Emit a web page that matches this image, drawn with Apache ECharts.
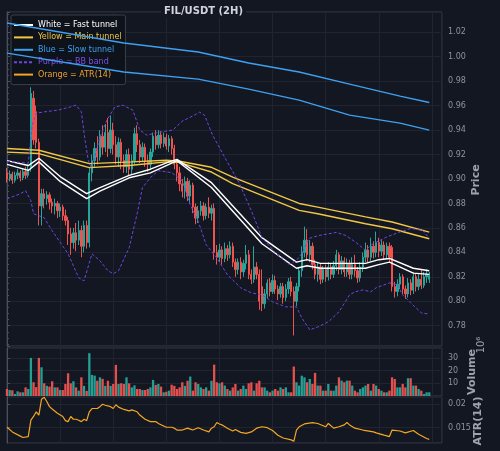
<!DOCTYPE html>
<html>
<head>
<meta charset="utf-8">
<script src="https://cdn.jsdelivr.net/npm/echarts@6/dist/echarts.min.js"></script>
<style>
  html, body { margin: 0; padding: 0; background: #131722; }
  #chart { width: 500px; height: 451px; }
</style>
</head>
<body>
<div id="chart"></div>
<script>
// 2H candles: [open, close, low, high]
const candles = [
  [.905,.900,.897,.909],[.900,.904,.898,.907],[.904,.899,.896,.906],[.899,.903,.897,.906],[.903,.905,.900,.908],
  [.905,.901,.898,.907],[.901,.906,.899,.909],[.906,.903,.900,.910],[.903,.908,.901,.912],[.910,.970,.906,.975],
  [.966,.932,.928,.972],[.955,.930,.925,.960],[.930,.878,.862,.933],[.878,.888,.862,.892],[.888,.884,.876,.892],
  [.884,.887,.879,.890],[.887,.881,.875,.889],[.881,.878,.872,.884],[.878,.880,.871,.884],[.880,.874,.868,.882],
  [.874,.877,.869,.880],[.877,.870,.866,.879],[.870,.866,.862,.875],[.866,.855,.846,.869],[.855,.848,.838,.860],
  [.848,.856,.843,.860],[.856,.850,.841,.864],[.850,.858,.846,.866],[.858,.845,.836,.862],[.845,.862,.840,.866],
  [.862,.848,.843,.866],[.848,.905,.844,.909],[.905,.915,.898,.920],[.915,.925,.910,.930],[.925,.918,.912,.935],
  [.918,.935,.915,.940],[.935,.926,.920,.944],[.926,.938,.922,.945],[.938,.925,.918,.950],[.925,.940,.921,.952],
  [.940,.928,.920,.946],[.928,.918,.912,.935],[.918,.930,.910,.934],[.930,.915,.908,.933],[.915,.910,.905,.920],
  [.910,.920,.905,.924],[.920,.908,.903,.925],[.908,.915,.904,.920],[.915,.937,.912,.942],[.937,.928,.922,.944],
  [.928,.918,.913,.932],[.918,.926,.914,.930],[.926,.915,.910,.929],[.915,.912,.906,.920],[.912,.922,.908,.925],
  [.922,.935,.918,.938],[.935,.928,.924,.940],[.928,.936,.925,.940],[.936,.929,.925,.939],[.929,.934,.926,.938],
  [.934,.927,.924,.937],[.927,.933,.922,.936],[.933,.925,.920,.935],[.925,.912,.908,.928],[.912,.905,.898,.916],
  [.905,.896,.890,.910],[.896,.890,.885,.900],[.890,.898,.884,.902],[.898,.886,.882,.901],[.886,.895,.880,.899],
  [.895,.877,.872,.897],[.877,.868,.863,.880],[.868,.874,.864,.878],[.874,.878,.870,.882],[.878,.870,.866,.881],
  [.870,.877,.867,.880],[.877,.872,.868,.885],[.872,.876,.866,.879],[.876,.840,.834,.880],[.840,.836,.830,.846],
  [.836,.842,.832,.847],[.842,.835,.830,.845],[.835,.843,.832,.848],[.843,.838,.833,.846],[.838,.845,.835,.849],
  [.845,.832,.828,.848],[.832,.826,.820,.835],[.826,.832,.822,.835],[.832,.824,.818,.836],[.824,.831,.820,.834],
  [.831,.838,.826,.846],[.838,.822,.818,.842],[.822,.818,.814,.826],[.818,.828,.815,.845],[.828,.822,.818,.832],
  [.822,.800,.793,.826],[.812,.798,.792,.826],[.798,.806,.794,.810],[.806,.815,.802,.818],[.815,.808,.804,.819],
  [.808,.817,.806,.822],[.817,.810,.806,.821],[.810,.806,.801,.813],[.806,.812,.803,.815],[.812,.803,.798,.815],
  [.803,.810,.800,.814],[.810,.816,.806,.819],[.816,.808,.804,.820],[.808,.800,.772,.812],[.800,.812,.796,.815],
  [.812,.825,.808,.828],[.825,.840,.820,.845],[.840,.850,.836,.861],[.850,.838,.833,.859],[.838,.845,.832,.850],
  [.845,.830,.826,.848],[.830,.822,.818,.834],[.822,.828,.816,.832],[.828,.818,.814,.831],[.818,.826,.815,.829],
  [.826,.820,.816,.830],[.820,.828,.817,.832],[.828,.822,.818,.831],[.822,.829,.819,.833],[.829,.838,.825,.842],
  [.838,.826,.822,.840],[.826,.833,.822,.837],[.833,.824,.820,.836],[.824,.831,.820,.835],[.831,.822,.818,.834],
  [.822,.830,.818,.836],[.830,.825,.820,.838],[.825,.819,.815,.828],[.819,.828,.816,.832],[.828,.836,.824,.840],
  [.836,.842,.832,.848],[.842,.836,.832,.846],[.836,.845,.833,.852],[.845,.840,.835,.849],[.840,.848,.836,.857],
  [.848,.841,.836,.852],[.841,.846,.837,.850],[.846,.838,.834,.849],[.838,.845,.835,.848],[.845,.836,.832,.848],
  [.844,.812,.808,.846],[.812,.808,.803,.816],[.808,.814,.804,.818],[.814,.820,.810,.823],[.820,.810,.806,.822],
  [.810,.806,.802,.813],[.806,.815,.803,.819],[.815,.809,.805,.818],[.809,.820,.806,.824],[.820,.812,.808,.823],
  [.812,.818,.809,.822],[.818,.813,.810,.826],[.813,.820,.811,.824],[.820,.822,.815,.826],[.818,.821,.815,.824]
];

// volume in millions
const volumes = [
  5.5,4.7,4.5,1.6,3.7,2.9,2.9,6.8,5.5,30,10.8,7,30,22.6,10,8,7.4,11.6,6.8,6.8,
  4.7,4.7,9.5,17.9,10,11.6,6.8,4.2,14.7,8,4,33.7,16.6,16,12,14.7,13.5,8,12,8,
  9.5,24.5,9.5,10,9.5,14.7,10,6.8,8.4,5.5,5.5,4.7,4.7,5.5,6.8,12.6,8.7,9.5,7.4,2.9,
  3.4,4.2,8.9,8,5.5,6.8,10.8,8,12,15.3,4.2,10.8,9.5,6.8,5.5,6.8,4.2,12,24.7,
  10.8,10,10.8,8.2,5.5,4.2,6.8,9.5,4.2,5.5,8.2,5.5,10,10.8,4.2,10,12,6.8,
  6.8,4.2,2.9,4.2,5.5,4.2,6.8,5.5,6.8,2.9,2.9,23.2,
  10.8,8.2,16,14.7,10.8,13.4,9.5,18.2,8.2,8.2,4.2,4.2,9.5,4.2,4.2,8.2,14.7,12.1,10.8,12.1,
  12.1,8.2,4.2,2.9,5.5,6.8,8.2,9.5,4.2,9.5,8.2,5.5,4.2,2.9,2.9,4.2,14.7,
  13.4,6.8,6.8,9.5,6.8,14,14,8.2,8.2,5.5,4.2,1.6,2.9,2.9
];

// [bar index, value] readings
const fastUpper = [[0,.915],[8,.911],[12,.917],[20,.902],[30,.888],[35,.893],[46,.903],[54,.908],[61,.914],[64,.916],[77,.897],[96,.852],[109,.832],[113,.834],[118,.831],[135,.831],[140,.834],[144,.835],[153,.827],[159,.825]];
const fastLower = [[0,.912],[8,.907],[12,.914],[20,.898],[30,.884],[35,.890],[46,.901],[54,.905],[61,.912],[64,.915],[77,.893],[96,.847],[109,.827],[113,.829],[118,.827],[135,.827],[140,.830],[144,.832],[153,.823],[159,.822]];
const mainUpper = [[0,.925],[12,.9235],[31,.9126],[47,.914],[60,.9153],[65,.9145],[77,.9096],[85,.9016],[110,.880],[117,.877],[135,.869],[145,.8648],[159,.8566]];
const mainLower = [[0,.922],[12,.9208],[31,.9093],[47,.9112],[60,.914],[65,.9134],[77,.9057],[85,.8962],[110,.8743],[117,.8716],[135,.8634],[145,.8593],[159,.8511]];
const slowUpper = [[0,1.0276],[44,1.0112],[72,1.0039],[91,.9949],[110,.9875],[129,.9776],[148,.9678],[159,.9626]];
const slowLower = [[0,1.003],[44,.9875],[72,.9817],[91,.9735],[110,.9645],[129,.9522],[148,.9457],[159,.940]];
const bbUpper = [[0,.9145],[8,.9129],[9.5,.944],[11,.9538],[14,.9549],[19,.9563],[24,.959],[26,.9604],[28,.9549],[29.4,.9317],[30.6,.9153],[31.6,.9096],[32.4,.9129],[35,.9342],[37.6,.9481],[40.6,.9588],[43.6,.9604],[47.4,.9563],[50,.94],[52.6,.9359],[57.5,.9383],[62.4,.94],[66,.9473],[70.5,.9522],[72.5,.9547],[74.4,.9522],[77.4,.9359],[82.6,.9153],[87.5,.8965],[92.4,.872],[96,.8522],[101.3,.8391],[106.2,.8301],[109,.8334],[111,.8391],[113.7,.8514],[117.5,.8538],[124,.8563],[127.6,.8538],[131.4,.8481],[135,.8416],[137.4,.8465],[142.6,.8522],[147.5,.8563],[152,.8596],[156.5,.8579],[159,.8515]];
const bbLower = [[0,.8838],[5,.8879],[7,.8904],[9,.8822],[10,.8716],[14,.8683],[17,.8577],[23,.8388],[27,.8192],[29,.8167],[32,.8388],[35,.8331],[38,.825],[40,.8225],[42,.825],[46,.8438],[49,.8716],[51,.8929],[54,.9011],[57,.9068],[62,.9052],[66,.8986],[69,.8789],[72,.8654],[75,.8462],[79,.8355],[83,.8216],[88,.811],[92,.8069],[96,.8052],[100,.7995],[105,.7954],[109,.7954],[111,.7864],[114,.7766],[117,.7789],[121,.7832],[125,.7913],[129,.8052],[131,.8077],[134,.8093],[137,.8077],[139,.811],[144,.815],[147,.8134],[149,.8052],[152,.7987],[156,.7905],[159,.7895]];
const atr = [[0,.0151],[2,.0141],[5,.0132],[6,.0129],[8,.0131],[9,.0166],[10,.0174],[11,.0184],[12,.0177],[13,.0211],[14,.0215],[15,.0206],[16,.0195],[17,.0190],[19,.0181],[21,.0174],[22,.0165],[23,.0163],[24,.0174],[25,.0168],[26,.0168],[27,.0166],[28,.0163],[29,.0168],[30,.0165],[31,.0184],[32,.0191],[34,.0191],[35,.0195],[36,.0200],[37,.0198],[39,.0195],[40,.0191],[41,.0199],[42,.0194],[44,.0189],[46,.0186],[47,.0188],[49,.0184],[50,.0177],[52,.0168],[54,.0163],[56,.0163],[57,.0159],[60,.0151],[62,.0151],[63,.0149],[64,.0145],[66,.0145],[68,.0149],[69,.0147],[70,.0145],[72,.0150],[74,.0145],[76,.0141],[77,.0149],[78,.0152],[79,.0161],[80,.0158],[81,.0156],[83,.0149],[85,.0143],[86,.0146],[88,.0140],[90,.0138],[92,.0141],[94,.0149],[96,.0152],[98,.0150],[100,.0144],[102,.0134],[104,.0128],[107,.0124],[108,.0121],[109,.0145],[110,.0152],[112,.0158],[115,.0161],[117,.0159],[120,.0152],[121,.0159],[123,.0149],[125,.0152],[127,.0156],[128,.0161],[129,.0156],[131,.0149],[134,.0145],[138,.0141],[139,.0139],[142,.0134],[144,.0131],[145,.0145],[148,.0143],[150,.0139],[153,.0144],[155,.0136],[158,.0127],[159,.0125]];

const UP = '#26a69a', DOWN = '#ef5350';
const GRID_LINE = '#1f2430', BORDER = '#3a3e4a', LABEL = '#8e939c';
const FONT = 'DejaVu Sans';

const chart = echarts.init(document.getElementById('chart'));

const xAxisBase = (gridIndex) => ({
  type: 'value', gridIndex, min: 0, max: 163.8, interval: 20,
  axisLabel: { show: false }, axisTick: { show: false }, axisLine: { show: false },
  splitLine: { show: true, lineStyle: { color: GRID_LINE, width: 1 } }
});
const yAxisBase = (gridIndex, min, max, step, splitNumber) => ({
  type: 'value', gridIndex, position: 'right', min, max, splitNumber,
  minInterval: step, maxInterval: step, scale: true,
  axisLine: { show: true, lineStyle: { color: '#4b505c' } },
  axisTick: { show: true, length: 3, lineStyle: { color: '#4b505c' } },
  axisLabel: { color: LABEL, fontSize: 8, fontFamily: FONT, margin: 6, showMinLabel: false, showMaxLabel: false },
  splitLine: { show: true, lineStyle: { color: GRID_LINE, width: 1 } }
});

const lineSeries = (name, data, color, width, extra) => Object.assign({
  name, type: 'line', data, xAxisIndex: 0, yAxisIndex: 0,
  symbol: 'none', showSymbol: false, z: 5, silent: true,
  lineStyle: { color, width }, itemStyle: { color }
}, extra || {});

const priceAxis = yAxisBase(0, .7634, 1.0366, .02, 14);
priceAxis.axisLabel.formatter = v => v.toFixed(2);
priceAxis.minorTick = { show: true, splitNumber: 4, length: 2, lineStyle: { color: '#4b505c' } };

chart.setOption({
  backgroundColor: '#131722',
  animation: false,
  title: {
    text: 'FIL/USDT (2H)', left: 161, top: 4, padding: [2, 3],
    backgroundColor: '#131722',
    textStyle: { color: '#d1d4dc', fontSize: 10, fontWeight: 'bold', fontFamily: FONT }
  },
  legend: {
    orient: 'vertical', left: 11, top: 15, itemWidth: 19, itemHeight: 8, itemGap: 2.4,
    padding: [5, 4, 5, 2],
    backgroundColor: 'rgba(14,18,27,0.93)', borderColor: '#3a3f4b', borderWidth: 1, borderRadius: 2,
    textStyle: { fontSize: 8, lineHeight: 10, fontFamily: FONT },
    lineStyle: { width: 2 },
    itemStyle: { color: 'transparent', borderColor: 'transparent', borderWidth: 0, opacity: 0 },
    data: [
      { name: 'White = Fast tunnel', textStyle: { color: '#ffffff' } },
      { name: 'Yellow = Main tunnel', textStyle: { color: '#f2c744' } },
      { name: 'Blue = Slow tunnel', textStyle: { color: '#3ea0f0' } },
      { name: 'Purple = BB band', textStyle: { color: '#7a4fe8' } },
      { name: 'Orange = ATR(14)', textStyle: { color: '#f0a030' } }
    ]
  },
  grid: [
    { left: 7, right: 58, top: 12, height: 334, show: true, borderColor: BORDER, borderWidth: 1, backgroundColor: 'transparent', outerBoundsMode: 'none' },
    { left: 7, right: 58, top: 348, height: 48, show: true, borderColor: BORDER, borderWidth: 1, backgroundColor: 'transparent', outerBoundsMode: 'none' },
    { left: 7, right: 58, top: 397, height: 46, show: true, borderColor: BORDER, borderWidth: 1, backgroundColor: 'transparent', outerBoundsMode: 'none' }
  ],
  xAxis: [xAxisBase(0), xAxisBase(1), xAxisBase(2)],
  yAxis: [
    priceAxis,
    yAxisBase(1, 0, 37.8, 10, 4),
    yAxisBase(2, .01173, .02156, .005, 2)
  ],
  graphic: [
    { type: 'text', x: 476, y: 180, rotation: Math.PI / 2, silent: true,
      style: { text: 'Price', fill: '#9ea2aa', fontSize: 11, fontWeight: 'bold', fontFamily: FONT, align: 'center', verticalAlign: 'middle' } },
    { type: 'text', x: 472, y: 372, rotation: Math.PI / 2, silent: true,
      style: { text: 'Volume', fill: '#9ea2aa', fontSize: 11, fontWeight: 'bold', fontFamily: FONT, align: 'center', verticalAlign: 'middle' } },
    { type: 'text', x: 481, y: 345, rotation: Math.PI / 2, silent: true,
      style: { text: '10\u2076', fill: '#9ea2aa', fontSize: 10, fontFamily: FONT, align: 'center', verticalAlign: 'middle' } },
    { type: 'text', x: 478, y: 421, rotation: Math.PI / 2, silent: true,
      style: { text: 'ATR(14)', fill: '#9ea2aa', fontSize: 11, fontWeight: 'bold', fontFamily: FONT, align: 'center', verticalAlign: 'middle' } }
  ],
  series: [
    {
      name: 'FIL', type: 'candlestick', xAxisIndex: 0, yAxisIndex: 0,
      data: candles.map((c, i) => [i, c[0], c[1], c[2], c[3]]),
      encode: { x: 0, y: [1, 2, 3, 4] },
      barWidth: 1.8, z: 2, silent: true,
      itemStyle: { color: UP, color0: DOWN, borderColor: UP, borderColor0: DOWN, borderWidth: 1 }
    },
    lineSeries('Blue = Slow tunnel', slowUpper, '#3ea0f0', 1.4),
    lineSeries('Blue = Slow tunnel', slowLower, '#3ea0f0', 1.4),
    lineSeries('Yellow = Main tunnel', mainUpper, '#f2c744', 1.4),
    lineSeries('Yellow = Main tunnel', mainLower, '#f2c744', 1.4),
    lineSeries('White = Fast tunnel', fastUpper, '#ffffff', 1.4),
    lineSeries('White = Fast tunnel', fastLower, '#ffffff', 1.4),
    lineSeries('Purple = BB band', bbUpper, '#6f45e0', 1, { lineStyle: { color: '#6f45e0', width: 1, type: [3, 2] } }),
    lineSeries('Purple = BB band', bbLower, '#6f45e0', 1, { lineStyle: { color: '#6f45e0', width: 1, type: [3, 2] } }),
    {
      name: 'Volume', type: 'bar', xAxisIndex: 1, yAxisIndex: 1, barWidth: 2.3, silent: true,
      data: volumes.map((v, i) => ({
        value: [i, v],
        itemStyle: { color: candles[i][1] >= candles[i][0] ? UP : DOWN, opacity: 0.95 }
      }))
    },
    lineSeries('Orange = ATR(14)', atr, '#f5a623', 1.2, { xAxisIndex: 2, yAxisIndex: 2 })
  ]
});
</script>
</body>
</html>
